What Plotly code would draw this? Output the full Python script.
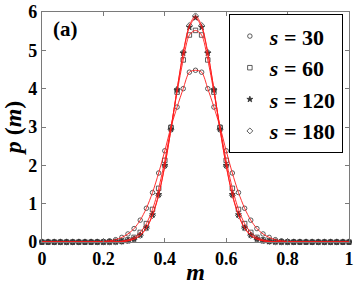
import plotly.graph_objects as go

m_values = [round(i * 0.02, 2) for i in range(51)]

# left half (m = 0 .. 0.5), mirrored for the right half
half_s30 = [0, 0, 0, 0, 0, 0, 0, 0, 0.003, 0.007, 0.015, 0.031, 0.061, 0.12, 0.21, 0.35,
            0.57, 0.88, 1.29, 1.80, 2.38, 3.00, 3.52, 4.00, 4.43, 4.48]
half_s60 = [0, 0, 0, 0, 0, 0, 0, 0, 0, 0, 0, 0.003, 0.009, 0.023, 0.055, 0.12,
            0.25, 0.48, 0.85, 1.40, 2.13, 2.99, 3.91, 4.75, 5.40, 5.52]
half_s120 = [0, 0, 0, 0, 0, 0, 0, 0, 0, 0, 0, 0, 0.004, 0.012, 0.032, 0.079,
             0.18, 0.37, 0.71, 1.24, 2.00, 2.94, 3.97, 4.93, 5.60, 5.85]
half_s180 = [0, 0, 0, 0, 0, 0, 0, 0, 0, 0, 0, 0, 0.004, 0.011, 0.030, 0.074,
             0.17, 0.36, 0.69, 1.22, 1.98, 2.93, 3.98, 4.95, 5.65, 5.90]

p_s30 = half_s30 + half_s30[-2::-1]
p_s60 = half_s60 + half_s60[-2::-1]
p_s120 = half_s120 + half_s120[-2::-1]
p_s180 = half_s180 + half_s180[-2::-1]

series_names = ["<b><i>s</i> = 30</b>", "<b><i>s</i> = 60</b>",
                "<b><i>s</i> = 120</b>", "<b><i>s</i> = 180</b>"]
series_values = [p_s30, p_s60, p_s120, p_s180]
symbols = ["circle-open", "square-open", "star", "diamond-open"]

x_ticks = [0, 0.2, 0.4, 0.6, 0.8, 1]
x_ticklabels = ["0", "0.2", "0.4", "0.6", "0.8", "1"]
y_ticks = [0, 1, 2, 3, 4, 5, 6]
y_ticklabels = ["0", "1", "2", "3", "4", "5", "6"]

FONT = "Times New Roman, Liberation Serif, DejaVu Serif, serif"
fig = go.Figure()

for name, vals, sym in zip(series_names, series_values, symbols):
    fig.add_trace(go.Scatter(
        x=m_values, y=vals, mode="markers", name=name,
        marker=dict(symbol=sym, size=4.5, color="#333333",
                    line=dict(color="#333333", width=0.8)),
        cliponaxis=False,
    ))

for vals in series_values:
    fig.add_trace(go.Scatter(
        x=m_values, y=vals, mode="lines", showlegend=False,
        line=dict(color="#ff1a1a", width=0.9, shape="spline", smoothing=0.8),
        hoverinfo="skip",
    ))

axis_common = dict(
    showline=True, linecolor="#7a7a7a", linewidth=1.2, mirror="ticks",
    ticks="inside", ticklen=4, tickcolor="#7a7a7a", tickwidth=1,
    showgrid=False, zeroline=False, automargin=False,
    ticklabeloverflow="allow",
    tickfont=dict(family=FONT, size=18, color="black"),
)

fig.update_xaxes(range=[0, 1], tickvals=x_ticks,
                 ticktext=["<b>%s</b>" % t for t in x_ticklabels],
                 title=dict(text="<b><i>m</i></b>", standoff=2,
                            font=dict(family=FONT, size=24, color="black")),
                 **axis_common)
fig.update_yaxes(range=[0, 6], tickvals=y_ticks,
                 ticktext=["<b>%s</b>" % t for t in y_ticklabels],
                 title=dict(text="<b><i>p</i> (<i>m</i>)</b>", standoff=6,
                            font=dict(family=FONT, size=24, color="black")),
                 **axis_common)

fig.add_annotation(text="<b>(a)</b>", xref="paper", yref="paper",
                   x=0.075, y=0.925, xanchor="center", yanchor="middle",
                   showarrow=False,
                   font=dict(family=FONT, size=21, color="black"))

fig.update_layout(
    width=354, height=285,
    margin=dict(l=42, r=5, t=12, b=43),
    paper_bgcolor="white", plot_bgcolor="white",
    showlegend=True,
    legend=dict(x=0.98, y=0.99, xanchor="right", yanchor="top",
                bgcolor="white", bordercolor="black", borderwidth=1,
                font=dict(family=FONT, size=22, color="black"),
                itemwidth=30, tracegroupgap=0,
                ),
)

fig.write_html("out.html", config={"displayModeBar": False},
               post_script="document.body.style.margin='0';")
